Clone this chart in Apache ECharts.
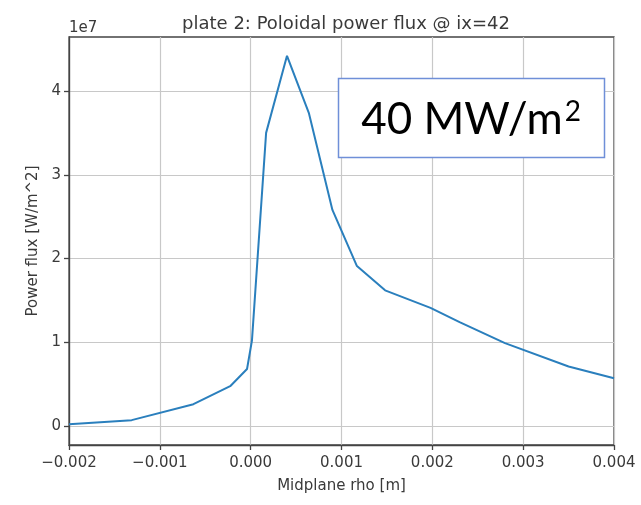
<!DOCTYPE html>
<html><head><meta charset="utf-8">
<script src="https://cdn.jsdelivr.net/npm/echarts@6/dist/echarts.min.js"></script>
<style>html,body{margin:0;padding:0;background:#fff}#c{width:641px;height:505px}</style>
</head><body><div id="c"></div>
<script>
const rho = [-0.002, -0.00131, -0.00063, -0.00022, -0.00004, 0.000014, 0.00017, 0.0004, 0.00064, 0.0009, 0.00117, 0.00148, 0.00198, 0.0023, 0.0028, 0.0035, 0.004];
const flux = [0.02e7, 0.07e7, 0.26e7, 0.48e7, 0.68e7, 1.02e7, 3.5e7, 4.42e7, 3.74e7, 2.58e7, 1.91e7, 1.62e7, 1.41e7, 1.24e7, 0.99e7, 0.71e7, 0.57e7];
const xTicks = [-0.002, -0.001, 0, 0.001, 0.002, 0.003, 0.004];
const yTicks = [0, 1e7, 2e7, 3e7, 4e7];

const chart = echarts.init(document.getElementById('c'), null, {renderer: 'canvas'});
const font = 'DejaVu Sans';
const tc = '#3a3a3a';
chart.setOption({
  animation: false,
  backgroundColor: '#fff',
  title: {text: 'plate 2: Poloidal power flux @ ix=42', left: 341, top: 10, textAlign: 'center',
    textStyle: {fontFamily: font, fontSize: 18, fontWeight: 'normal', color: tc}},
  grid: {left: 69, right: 27, top: 37, bottom: 60, show: true, borderColor: '#444', borderWidth: 1.3, containLabel: false},
  xAxis: {type: 'value', min: -0.002, max: 0.004,
    name: 'Midplane rho [m]', nameLocation: 'middle', nameGap: 34,
    nameTextStyle: {fontFamily: font, fontSize: 15, color: tc},
    axisLine: {show: true, onZero: false, lineStyle: {color: '#444', width: 1.3}},
    axisTick: {show: true, length: 5, lineStyle: {color: '#444', width: 1.3}, customValues: xTicks},
    axisLabel: {fontFamily: font, fontSize: 15, color: tc, margin: 11, customValues: xTicks,
      formatter: v => (v < 0 ? '\u2212' : '') + Math.abs(v).toFixed(3)},
    splitLine: {show: true, lineStyle: {color: '#c8c8c8', width: 1.2}}},
  yAxis: {type: 'value', min: -0.227e7, max: 4.645e7,
    name: 'Power flux [W/m^2]', nameLocation: 'middle', nameGap: 28,
    nameTextStyle: {fontFamily: font, fontSize: 15, color: tc},
    axisLine: {show: true, onZero: false, lineStyle: {color: '#444', width: 1.3}},
    axisTick: {show: true, length: 5, lineStyle: {color: '#444', width: 1.3}, customValues: yTicks},
    axisLabel: {fontFamily: font, fontSize: 15, color: tc, margin: 8, customValues: yTicks,
      formatter: v => String(Math.round(v / 1e7))},
    splitLine: {show: true, lineStyle: {color: '#c8c8c8', width: 1.2}}},
  series: [{type: 'line', data: rho.map((x, i) => [x, flux[i]]), showSymbol: false,
    lineStyle: {color: '#2a7fbd', width: 2}, itemStyle: {color: '#2a7fbd'}}],
  graphic: [
    {type: 'text', left: 69, top: 21, style: {text: '1e7', fontFamily: font, fontSize: 15, fill: tc}},
    {type: 'rect', shape: {x: 338.5, y: 78.5, width: 266, height: 79},
      style: {fill: '#fff', stroke: '#6f8fd8', lineWidth: 1.5}, z: 100},
    {type: 'text', x: 471, y: 120, z: 101, style: {
      text: '{a|40 MW/m}{s|2}', align: 'center', verticalAlign: 'middle',
      rich: {
        a: {fontFamily: 'Lato', fontSize: 44, fill: '#000', color: '#000', verticalAlign: 'bottom'},
        s: {fontFamily: 'Lato', fontSize: 28, fill: '#000', color: '#000', verticalAlign: 'top', padding: [0, 0, 14, 2]}
      }}}
  ]
});
</script></body></html>
